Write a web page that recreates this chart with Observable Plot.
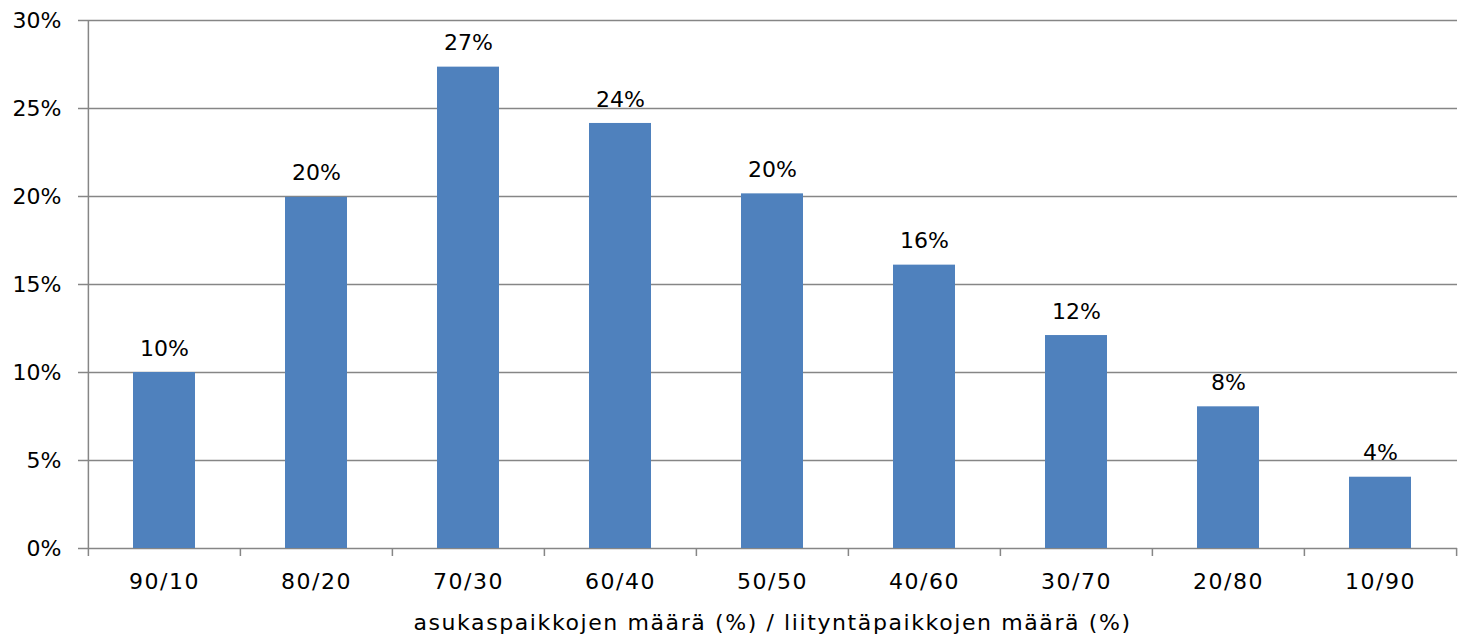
<!DOCTYPE html>
<html>
<head>
<meta charset="utf-8">
<script src="https://cdn.jsdelivr.net/npm/d3@7"></script>
<script src="https://cdn.jsdelivr.net/npm/@observablehq/plot@0.6"></script>
<style>
  html, body { margin: 0; padding: 0; background: #fff; }
  svg { display: block; }
  .xlab text { letter-spacing: 1.5px; }
  .xtitle text { letter-spacing: 1.6px; }
</style>
</head>
<body>
<div id="chart"></div>
<script>
const categories = ["90/10", "80/20", "70/30", "60/40", "50/50", "40/60", "30/70", "20/80", "10/90"];
const values = [10.0, 19.95, 27.35, 24.15, 20.15, 16.1, 12.1, 8.05, 4.05];
const yTicks = [0, 5, 10, 15, 20, 25, 30];
const xTitle = "asukaspaikkojen määrä (%) / liityntäpaikkojen määrä (%)";

const data = categories.map((c, i) => ({cat: c, value: values[i]}));

const W = 1464, H = 638;
const mL = 87, mR = 7, mT = 20, mB = 90;
const step = (W - mL - mR) / categories.length;
const grid = "#868686";
const font = "DejaVu Sans, sans-serif";

const chart = Plot.plot({
  width: W,
  height: H,
  marginLeft: mL,
  marginRight: mR,
  marginTop: mT,
  marginBottom: mB,
  style: {fontFamily: font, fontSize: "22px", color: "#000", background: "#fff"},
  x: {domain: categories, paddingInner: 0.59, paddingOuter: 0.295, label: null},
  y: {domain: [0, 30], label: null},
  marks: [
    Plot.gridY(yTicks, {stroke: grid, strokeOpacity: 1, strokeWidth: 1.5}),
    Plot.axisY(yTicks, {tickFormat: d => d + "%", tickSize: 9, tickPadding: 17, stroke: grid, strokeWidth: 1.5, fontSize: 22, fill: "#000"}),
    Plot.barY(data, {x: "cat", y: "value", fill: "#4F81BD"}),
    // category boundary ticks (first one doubles as the left axis line)
    Plot.ruleX(categories, {x: d => d, dx: -step / 2, y1: d => d === categories[0] ? 30 : 0, y2: 0, insetBottom: -8, stroke: grid, strokeWidth: 1.5}),
    Plot.ruleX([categories[categories.length - 1]], {x: d => d, dx: step / 2, y1: 0, y2: 0, insetBottom: -8, stroke: grid, strokeWidth: 1.5}),
    Plot.axisX({tickSize: 0, tickPadding: 25, fontSize: 22, fill: "#000", label: null, className: "xlab"}),
    Plot.text(data, {x: "cat", y: "value", text: d => Math.round(d.value) + "%", dy: -24, fontSize: 22, fill: "#000"}),
    Plot.text([xTitle], {frameAnchor: "bottom", dy: 81, fontSize: 22, fill: "#000", text: d => d, className: "xtitle"})
  ]
});
document.getElementById("chart").appendChild(chart);
</script>
</body>
</html>
